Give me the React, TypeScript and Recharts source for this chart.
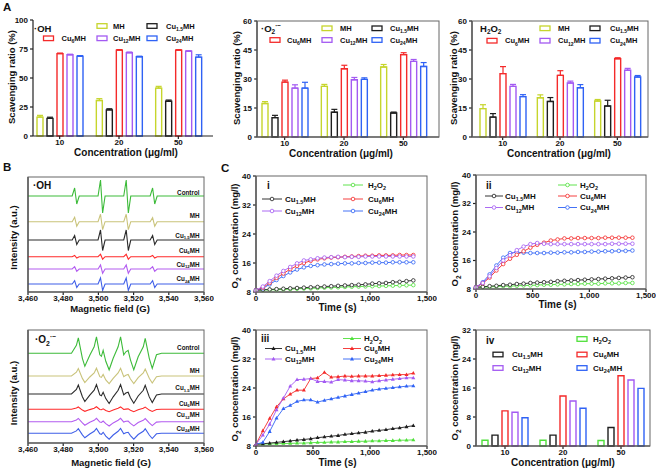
import React from 'react';
import { BarChart, Bar, LineChart, Line, XAxis, YAxis, ErrorBar } from 'recharts';

const FONT = '"Liberation Sans", Arial, sans-serif';
const AX = '#222';
const FRAME = '#666';

// ---------- data ----------
const concentrations = ['10', '20', '50'];

// A: ·OH scavenging ratio (%)
const ohMH = [16.3, 30.6, 41.3];
const ohMHErr = [1.5, 1.6, 1.5];
const ohCu15 = [15.2, 22.5, 30.0];
const ohCu15Err = [1.0, 1.0, 1.0];
const ohCu6 = [71.0, 74.0, 74.0];
const ohCu6Err = [0.5, 0.5, 0.4];
const ohCu12 = [70.0, 71.8, 73.0];
const ohCu12Err = [0.5, 0.6, 0.5];
const ohCu24 = [68.8, 68.3, 68.0];
const ohCu24Err = [0.5, 0.5, 2.0];

// A: ·O2- scavenging ratio (%)
const o2MH = [17.3, 26.2, 36.2];
const o2MHErr = [1.0, 1.0, 1.3];
const o2Cu15 = [10.0, 12.8, 12.4];
const o2Cu15Err = [1.2, 1.5, 0.5];
const o2Cu6 = [28.4, 35.3, 42.6];
const o2Cu6Err = [1.0, 1.8, 1.0];
const o2Cu12 = [25.3, 29.6, 39.1];
const o2Cu12Err = [1.7, 1.2, 1.0];
const o2Cu24 = [25.3, 29.8, 36.5];
const o2Cu24Err = [3.0, 0.8, 2.0];

// A: H2O2 scavenging ratio (%)
const hpMH = [14.7, 20.3, 18.6];
const hpMHErr = [2.0, 1.5, 0.8];
const hpCu15 = [10.3, 18.4, 16.0];
const hpCu15Err = [1.8, 2.0, 3.0];
const hpCu6 = [32.8, 31.9, 40.5];
const hpCu6Err = [3.6, 2.4, 0.5];
const hpCu12 = [26.2, 27.9, 34.5];
const hpCu12Err = [1.0, 1.0, 1.0];
const hpCu24 = [20.9, 25.5, 31.0];
const hpCu24Err = [1.0, 1.6, 0.8];

// B: EPR spectra, field (G) key points and amplitudes (a.u.)
const ohField = [3460, 3485.1, 3486.5, 3487.7, 3489.1, 3499.8, 3501.2, 3502.4, 3503.8, 3514.4, 3515.8, 3517.0, 3518.4, 3529.4, 3530.8, 3532.0, 3533.4, 3560];
const ohControlTrace = [0, 0, 8, -8, 0, 0, 16, -17, 0, 0, 16, -17, 0, 0, 8, -8, 0, 0];
const ohMHTrace = [0, 0, 4.5, -4.5, 0, 0, 7.5, -8, 0, 0, 7.5, -8, 0, 0, 4, -4.5, 0, 0];
const ohCu15Trace = [0, 0, 4.5, -4.5, 0, 0, 10, -10.5, 0, 0, 10, -10.5, 0, 0, 4.5, -4.5, 0, 0];
const ohCu6Trace = [0, 0, 1.3, -1.3, 0, 0, 2.5, -2.5, 0, 0, 2.5, -2.5, 0, 0, 1.3, -1.3, 0, 0];
const ohCu12Trace = [0, 0, 2.3, -2.3, 0, 0, 4, -4.2, 0, 0, 4, -4.2, 0, 0, 2.3, -2.3, 0, 0];
const ohCu24Trace = [0, 0, 3.3, -3.5, 0, 0, 6, -6.5, 0, 0, 6, -6.5, 0, 0, 3.3, -3.5, 0, 0];
const ohBaselines = [96, 70.3, 52, 35.3, 23, 8];

const o2Field = [3460, 3484.7, 3487.5, 3488.6, 3490.9, 3492.3, 3495.1, 3497.6, 3498.9, 3500.8, 3501.7, 3502.7, 3504.2, 3506.1, 3508.4, 3511.2, 3512.6, 3514.4, 3515.6, 3516.9, 3518.2, 3520.1, 3522.6, 3525.5, 3526.6, 3528.9, 3530.6, 3533.0, 3535.9, 3560];
const o2ControlTrace = [0, 0, 8, 15.5, -5, -13, -2, 6.5, 16.5, -1.5, -3, 3, -8, -16.5, -5, 6.5, 16.5, -1.5, 1.5, 3, -6.5, -16.5, -3.5, 6.5, 15, -5, -15, -1.5, 0, 0];
const o2MHTrace = [0, 0, 3.8, 7.5, -2.4, -6.5, -1, 3.1, 7.8, -0.7, -1.4, 1.5, -3.9, -7.6, -2.3, 3.1, 7.7, -0.7, 0.8, 1.5, -3, -7.5, -1.6, 3, 7, -2.3, -7, -0.7, 0, 0];
const o2Cu15Trace = [0, 0, 4.6, 9, -2.8, -7.5, -1.1, 3.8, 9.4, -0.9, -1.7, 1.8, -4.6, -9.5, -2.8, 3.7, 9.4, -0.9, 0.9, 1.8, -3.7, -9.3, -2, 3.7, 8.6, -2.9, -8.6, -0.9, 0, 0];
const o2Cu6Trace = [0, 0, 1.2, 2.3, -0.8, -2, -0.3, 1, 2.5, -0.2, -0.4, 0.5, -1.2, -2.4, -0.7, 1, 2.4, -0.2, 0.2, 0.4, -1, -2.4, -0.5, 1, 2.2, -0.8, -2.2, -0.2, 0, 0];
const o2Cu12Trace = [0, 0, 1.7, 3.3, -1.2, -3.5, -0.5, 1.4, 3.4, -0.4, -0.7, 0.7, -2, -4.3, -1.2, 1.4, 3.4, -0.4, 0.4, 0.7, -1.7, -4.2, -0.8, 1.4, 3.1, -1.2, -3.9, -0.4, 0, 0];
const o2Cu24Trace = [0, 0, 2.4, 4.6, -1.6, -4.5, -0.7, 2, 4.9, -0.5, -1, 1, -2.8, -5.9, -1.7, 2, 4.9, -0.5, 0.5, 1, -2.3, -5.8, -1.2, 2, 4.5, -1.7, -5.2, -0.5, 0, 0];
const o2Baselines = [89.7, 67, 49, 33.7, 21.3, 9.7];

// C: O2 concentration (mg/l) vs time (s)
const times = [0, 60, 120, 180, 240, 300, 360, 420, 480, 540, 600, 660, 720, 780, 840, 900, 960, 1020, 1080, 1140, 1200, 1260, 1320, 1380];

const iCu15 = [8.5, 8.6, 8.7, 8.8, 8.9, 9.0, 9.1, 9.2, 9.3, 9.4, 9.5, 9.6, 9.7, 9.8, 9.9, 10.0, 10.1, 10.3, 10.4, 10.5, 10.7, 10.8, 11.0, 11.2];
const iCu6 = [8.5, 9.2, 10.5, 11.9, 13.1, 14.3, 15.2, 16.0, 16.6, 17.0, 17.3, 17.5, 17.6, 17.7, 17.8, 17.9, 18.0, 18.0, 18.1, 18.1, 18.1, 18.2, 18.2, 18.2];
const iCu12 = [8.5, 9.5, 11.0, 12.5, 13.8, 14.9, 15.9, 16.7, 17.0, 17.3, 17.5, 17.6, 17.7, 17.6, 17.7, 17.7, 17.8, 17.8, 17.8, 17.8, 17.8, 17.8, 17.8, 17.8];
const iCu24 = [8.5, 9.0, 10.1, 11.3, 12.4, 13.4, 14.2, 14.8, 15.2, 15.4, 15.6, 15.7, 15.8, 15.9, 15.9, 16.0, 16.0, 16.1, 16.1, 16.1, 16.2, 16.2, 16.2, 16.2];
const iH2O2 = [8.5, 8.55, 8.6, 8.65, 8.7, 8.8, 8.9, 8.95, 9.0, 9.1, 9.2, 9.25, 9.3, 9.4, 9.45, 9.5, 9.55, 9.6, 9.65, 9.7, 9.75, 9.8, 9.85, 9.9];

const iiCu15 = [8.5, 8.6, 8.8, 8.9, 9.1, 9.2, 9.4, 9.5, 9.7, 9.8, 9.9, 10.0, 10.2, 10.3, 10.4, 10.5, 10.6, 10.7, 10.8, 10.9, 11.0, 11.1, 11.2, 11.3];
const iiCu6 = [8.5, 9.6, 11.2, 13.2, 15.0, 16.5, 17.6, 18.6, 19.6, 20.4, 21.0, 21.6, 21.9, 22.2, 22.2, 22.3, 22.3, 22.3, 22.3, 22.4, 22.4, 22.4, 22.4, 22.4];
const iiCu12 = [8.5, 9.7, 11.6, 13.9, 16.0, 17.5, 18.9, 19.9, 20.6, 20.9, 20.7, 20.6, 20.6, 20.6, 20.6, 20.6, 20.6, 20.6, 20.6, 20.6, 20.7, 20.7, 20.7, 20.7];
const iiCu24 = [8.5, 9.9, 12.1, 14.6, 16.8, 18.1, 18.3, 18.2, 18.1, 18.1, 18.1, 18.2, 18.2, 18.3, 18.3, 18.4, 18.4, 18.5, 18.5, 18.6, 18.6, 18.7, 18.7, 18.8];
const iiH2O2 = [8.5, 8.5, 8.6, 8.7, 8.8, 8.8, 8.9, 9.0, 9.0, 9.1, 9.2, 9.2, 9.3, 9.3, 9.4, 9.4, 9.5, 9.5, 9.5, 9.6, 9.6, 9.6, 9.7, 9.7];

const iiiCu15 = [8.5, 8.6, 8.8, 9.0, 9.2, 9.4, 9.6, 9.8, 10.0, 10.3, 10.5, 10.7, 10.9, 11.2, 11.4, 11.6, 11.8, 12.1, 12.3, 12.5, 12.8, 13.0, 13.3, 13.6];
const iiiCu6 = [8.5, 12.2, 15.6, 18.8, 21.0, 22.3, 23.4, 23.4, 26.6, 26.8, 28.3, 27.0, 27.1, 27.3, 27.2, 27.3, 27.3, 27.3, 27.4, 27.5, 27.6, 27.7, 27.7, 28.1];
const iiiCu12 = [8.5, 11.0, 14.0, 18.0, 21.2, 24.5, 26.3, 26.4, 26.6, 25.8, 25.8, 25.6, 26.3, 26.2, 26.0, 26.0, 25.9, 25.7, 26.0, 26.2, 26.4, 26.6, 26.8, 26.8];
const iiiCu24 = [8.5, 9.0, 12.0, 15.7, 18.3, 19.2, 20.3, 20.7, 20.7, 20.1, 20.6, 21.0, 21.4, 21.8, 22.2, 22.6, 23.0, 23.4, 23.7, 23.9, 24.1, 24.3, 24.5, 24.6];
const iiiH2O2 = [8.5, 8.5, 8.6, 8.6, 8.7, 8.7, 8.8, 8.8, 8.9, 9.0, 9.0, 9.1, 9.1, 9.2, 9.2, 9.3, 9.3, 9.4, 9.4, 9.5, 9.5, 9.6, 9.6, 9.7];

// C-iv: O2 concentration (mg/l) by concentration
const ivH2O2 = [1.6, 1.6, 1.5];
const ivCu15 = [3.0, 3.0, 5.1];
const ivCu6 = [9.7, 13.8, 19.4];
const ivCu12 = [9.3, 12.4, 18.2];
const ivCu24 = [7.8, 10.4, 15.9];

// ---------- tables ----------
const COLORS: Record<string, string> = {
  MH: '#c6d52c',
  Cu15: '#1e1e1e',
  Cu6: '#f42a2a',
  Cu12: '#a35af2',
  Cu24: '#2f62f5',
  H2O2: '#4fe03a',
};
const EPR_COLORS = ['#3dbb3a', '#c9c37a', '#2b2b2b', '#ff2b2b', '#b35cf0', '#3f5fe8'];
const EPR_KEYS = ['control', 'mh', 'cu15', 'cu6', 'cu12', 'cu24'];

const aKeys = ['MH', 'Cu15', 'Cu6', 'Cu12', 'Cu24'];
const ivKeys = ['H2O2', 'Cu15', 'Cu6', 'Cu12', 'Cu24'];
const cKeys = ['H2O2', 'Cu15', 'Cu24', 'Cu6', 'Cu12'];

const barRows = (cols: Record<string, number[]>, errs?: Record<string, number[]>) =>
  concentrations.map((c, i) => {
    const row: Record<string, any> = { c };
    Object.keys(cols).forEach((k) => {
      row[k] = cols[k][i];
      if (errs) row[k + 'Err'] = [0, errs[k][i]];
    });
    return row;
  });

const ohRows = barRows(
  { MH: ohMH, Cu15: ohCu15, Cu6: ohCu6, Cu12: ohCu12, Cu24: ohCu24 },
  { MH: ohMHErr, Cu15: ohCu15Err, Cu6: ohCu6Err, Cu12: ohCu12Err, Cu24: ohCu24Err },
);
const o2Rows = barRows(
  { MH: o2MH, Cu15: o2Cu15, Cu6: o2Cu6, Cu12: o2Cu12, Cu24: o2Cu24 },
  { MH: o2MHErr, Cu15: o2Cu15Err, Cu6: o2Cu6Err, Cu12: o2Cu12Err, Cu24: o2Cu24Err },
);
const hpRows = barRows(
  { MH: hpMH, Cu15: hpCu15, Cu6: hpCu6, Cu12: hpCu12, Cu24: hpCu24 },
  { MH: hpMHErr, Cu15: hpCu15Err, Cu6: hpCu6Err, Cu12: hpCu12Err, Cu24: hpCu24Err },
);
const ivRows = barRows({ H2O2: ivH2O2, Cu15: ivCu15, Cu6: ivCu6, Cu12: ivCu12, Cu24: ivCu24 });

const eprRows = (field: number[], traces: number[][], base: number[]) =>
  field.map((f, i) => {
    const row: Record<string, number> = { f };
    EPR_KEYS.forEach((k, j) => (row[k] = base[j] + traces[j][i]));
    return row;
  });
const ohEpr = eprRows(ohField, [ohControlTrace, ohMHTrace, ohCu15Trace, ohCu6Trace, ohCu12Trace, ohCu24Trace], ohBaselines);
const o2Epr = eprRows(o2Field, [o2ControlTrace, o2MHTrace, o2Cu15Trace, o2Cu6Trace, o2Cu12Trace, o2Cu24Trace], o2Baselines);

const timeRows = (cols: Record<string, number[]>) =>
  times.map((t, i) => {
    const row: Record<string, number> = { t };
    Object.keys(cols).forEach((k) => (row[k] = cols[k][i]));
    return row;
  });
const iRows = timeRows({ H2O2: iH2O2, Cu15: iCu15, Cu6: iCu6, Cu12: iCu12, Cu24: iCu24 });
const iiRows = timeRows({ H2O2: iiH2O2, Cu15: iiCu15, Cu6: iiCu6, Cu12: iiCu12, Cu24: iiCu24 });
const iiiRows = timeRows({ H2O2: iiiH2O2, Cu15: iiiCu15, Cu6: iiiCu6, Cu12: iiiCu12, Cu24: iiiCu24 });

// ---------- layout ----------
type R = [number, number, number, number];
const rA1: R = [33, 20, 213, 136];
const rA2: R = [257, 21, 439, 137];
const rA3: R = [472, 21, 648, 137];
const rB1: R = [28, 177, 204, 292];
const rB2: R = [28, 330, 204, 443];
const rCi: R = [256, 176, 427, 292];
const rCii: R = [476, 175, 646, 289];
const rCiii: R = [256, 330, 427, 446];
const rCiv: R = [476, 330, 650, 446];

const PL = 40;
const PT = 8;
const PR = 10;
const PB = 24;

const TICK = { fontSize: 8, fontWeight: 700, fill: '#111', fontFamily: FONT };
const comma = (v: number) => v.toLocaleString('en-US');

const Holder: React.FC<{ r: R; children: (w: number, h: number) => React.ReactNode }> = ({ r, children }) => (
  <div style={{ position: 'absolute', left: r[0] - PL, top: r[1] - PT }}>
    {children(r[2] - r[0] + PL + PR, r[3] - r[1] + PT + PB)}
  </div>
);

const axisProps = {
  tick: TICK,
  tickSize: 3,
  axisLine: { stroke: AX, strokeWidth: 1.2 },
  tickLine: { stroke: AX, strokeWidth: 1.2 },
  interval: 0 as const,
};

function GroupBars({ r, rows, keys, yMax, yTicks, pad, errors }: any) {
  return (
    <Holder r={r}>
      {(w, h) => (
        <BarChart width={w} height={h} data={rows} margin={{ top: PT, right: PR, left: 0, bottom: 0 }} barSize={6} barGap={4}>
          <XAxis dataKey="c" height={PB} tickMargin={0} padding={pad} {...axisProps} />
          <YAxis width={PL} type="number" domain={[0, yMax]} ticks={yTicks} tickMargin={2} {...axisProps} />
          {keys.map((k: string) => (
            <Bar key={k} dataKey={k} fill="#fff" stroke={COLORS[k]} strokeWidth={1.4} isAnimationActive={false}>
              {errors && <ErrorBar dataKey={k + 'Err'} width={3} stroke={COLORS[k]} strokeWidth={1.2} direction="y" />}
            </Bar>
          ))}
        </BarChart>
      )}
    </Holder>
  );
}

function EprChart({ r, rows }: { r: R; rows: Record<string, number>[] }) {
  const top = r[3] - r[1];
  return (
    <Holder r={r}>
      {(w, h) => (
        <LineChart width={w} height={h} data={rows} margin={{ top: PT, right: PR, left: 0, bottom: 0 }}>
          <XAxis
            dataKey="f"
            type="number"
            domain={[3460, 3560]}
            ticks={[3460, 3480, 3500, 3520, 3540, 3560]}
            tickFormatter={comma}
            height={PB}
            tickMargin={0}
            {...axisProps}
          />
          <YAxis width={PL} type="number" domain={[0, top]} tick={false} tickLine={false} axisLine={{ stroke: AX, strokeWidth: 1.2 }} />
          {EPR_KEYS.map((k, j) => (
            <Line key={k} dataKey={k} type="linear" stroke={EPR_COLORS[j]} strokeWidth={1.1} dot={false} isAnimationActive={false} />
          ))}
        </LineChart>
      )}
    </Holder>
  );
}

const triangle = (color: string) => (p: any) =>
  (
    <path
      key={`${color}-${p.index}`}
      d={`M${p.cx},${p.cy - 2.2}L${p.cx + 2},${p.cy + 1.4}L${p.cx - 2},${p.cy + 1.4}Z`}
      fill={color}
    />
  );

function O2Chart({ r, rows, tri }: { r: R; rows: Record<string, number>[]; tri?: boolean }) {
  return (
    <Holder r={r}>
      {(w, h) => (
        <LineChart width={w} height={h} data={rows} margin={{ top: PT, right: PR, left: 0, bottom: 0 }}>
          <XAxis
            dataKey="t"
            type="number"
            domain={[0, 1500]}
            ticks={[0, 500, 1000, 1500]}
            tickFormatter={comma}
            height={PB}
            tickMargin={0}
            {...axisProps}
          />
          <YAxis width={PL} type="number" domain={[8, 40]} ticks={[8, 16, 24, 32, 40]} tickMargin={2} {...axisProps} />
          {cKeys.map((k) => (
            <Line
              key={k}
              dataKey={k}
              type="linear"
              stroke={COLORS[k]}
              strokeWidth={0.9}
              dot={tri ? triangle(COLORS[k]) : { r: 1.8, stroke: COLORS[k], strokeWidth: 0.8, fill: '#fff' }}
              isAnimationActive={false}
            />
          ))}
        </LineChart>
      )}
    </Holder>
  );
}

// ---------- text helpers ----------
type Part = string | [string, 'sub' | 'sup'];
const LBL: Record<string, Part[]> = {
  MH: ['MH'],
  Cu15: ['Cu', ['1.5', 'sub'], 'MH'],
  Cu6: ['Cu', ['6', 'sub'], 'MH'],
  Cu12: ['Cu', ['12', 'sub'], 'MH'],
  Cu24: ['Cu', ['24', 'sub'], 'MH'],
  H2O2: ['H', ['2', 'sub'], 'O', ['2', 'sub']],
};
const EPR_LBL: Part[][] = [['Control'], LBL.MH, LBL.Cu15, LBL.Cu6, LBL.Cu12, LBL.Cu24];

function T({ x, y, parts, size, anchor = 'start', rot }: { x: number; y: number; parts: Part[]; size: number; anchor?: string; rot?: boolean }) {
  let cur = 0;
  const kids = parts.map((p, i) => {
    const [s, kind] = typeof p === 'string' ? [p, null] : p;
    const target = kind === 'sub' ? size * 0.28 : kind === 'sup' ? -size * 0.4 : 0;
    const dy = target - cur;
    cur = target;
    return (
      <tspan key={i} dy={dy} fontSize={kind ? size * 0.68 : size}>
        {s}
      </tspan>
    );
  });
  return (
    <text
      x={rot ? 0 : x}
      y={rot ? 0 : y}
      transform={rot ? `translate(${x},${y}) rotate(-90)` : undefined}
      textAnchor={anchor as any}
      fontFamily={FONT}
      fontWeight={700}
      fill="#111"
    >
      {kids}
    </text>
  );
}

const RectIcon = ({ x, y, k }: { x: number; y: number; k: string }) => (
  <rect x={x} y={y - 2.3} width={10} height={4.6} fill="#fff" stroke={COLORS[k]} strokeWidth={1.3} />
);
const LineIcon = ({ x0, x1, y, k, tri }: { x0: number; x1: number; y: number; k: string; tri?: boolean }) => {
  const cx = (x0 + x1) / 2;
  return (
    <g>
      <line x1={x0} x2={x1} y1={y} y2={y} stroke={COLORS[k]} strokeWidth={0.9} />
      {tri ? (
        <path d={`M${cx},${y - 2.2}L${cx + 2},${y + 1.4}L${cx - 2},${y + 1.4}Z`} fill={COLORS[k]} />
      ) : (
        <circle cx={cx} cy={y} r={1.8} fill="#fff" stroke={COLORS[k]} strokeWidth={0.8} />
      )}
    </g>
  );
};

const Frame = ({ r }: { r: R }) => (
  <rect x={r[0]} y={r[1]} width={r[2] - r[0]} height={r[3] - r[1]} fill="none" stroke={FRAME} strokeWidth={1} />
);

// legend layouts: [key, iconX, textX, y]
const aLeg1: [string, number, number, number][] = [
  ['MH', 97, 113, 26], ['Cu15', 147, 166, 26],
  ['Cu6', 43.5, 61.5, 38.3], ['Cu12', 97, 113, 38.3], ['Cu24', 147, 166, 38.3],
];
const aLeg2: [string, number, number, number][] = [
  ['MH', 322, 340, 28.3], ['Cu15', 372, 390, 28.3],
  ['Cu6', 270, 287, 40], ['Cu12', 322, 340, 40], ['Cu24', 372, 390, 40],
];
const aLeg3: [string, number, number, number][] = [
  ['MH', 540, 558, 28.3], ['Cu15', 590, 610, 28.3],
  ['Cu6', 487, 505, 40.7], ['Cu12', 540, 558, 40.7], ['Cu24', 590, 610, 40.7],
];
const ivLeg: [string, number, number, number][] = [
  ['H2O2', 577, 593, 339], ['Cu15', 493, 512, 354.5], ['Cu6', 577, 593, 354.5],
  ['Cu12', 493, 512, 368], ['Cu24', 577, 593, 368],
];
// [key, x0, x1, textX, y]
const ciLeg: [string, number, number, number, number][] = [
  ['H2O2', 343, 363, 368, 185], ['Cu15', 262, 282, 285, 199], ['Cu6', 343, 363, 368, 199],
  ['Cu12', 262, 282, 285, 211], ['Cu24', 343, 363, 368, 211],
];
const ciiLeg: [string, number, number, number, number][] = [
  ['H2O2', 558, 577, 580, 185], ['Cu15', 485, 503, 505, 196], ['Cu6', 558, 577, 580, 196],
  ['Cu12', 485, 503, 505, 207.5], ['Cu24', 558, 577, 580, 207.5],
];
const ciiiLeg: [string, number, number, number, number][] = [
  ['H2O2', 343, 361, 364, 338.5], ['Cu15', 265, 282, 285, 348.5], ['Cu6', 343, 361, 364, 348.5],
  ['Cu12', 265, 282, 285, 359], ['Cu24', 343, 361, 364, 359],
];
const b1LabelY = [195, 217.5, 237.5, 252.5, 266.5, 281];
const b2LabelY = [350, 373, 390, 405.5, 417, 430.5];

const O2_CONC: Part[] = ['O', ['2', 'sub'], ' concentration (mg/l)'];
const CONC: Part[] = ['Concentration (μg/ml)'];
const SUPEROXIDE: Part[] = ['·O', ['2', 'sub'], ['·−', 'sup']];

export default function App() {
  return (
    <div style={{ position: 'absolute', left: 0, top: 0, width: 660, height: 471, background: '#fff', overflow: 'hidden' }}>
      <GroupBars r={rA1} rows={ohRows} keys={aKeys} yMax={100} yTicks={[0, 25, 50, 75, 100]} pad={{ left: -3, right: 5 }} errors />
      <GroupBars r={rA2} rows={o2Rows} keys={aKeys} yMax={60} yTicks={[0, 15, 30, 45, 60]} pad={{ left: -2, right: 6 }} errors />
      <GroupBars r={rA3} rows={hpRows} keys={aKeys} yMax={60} yTicks={[0, 15, 30, 45, 60]} pad={{ left: 2, right: 2 }} errors />
      <EprChart r={rB1} rows={ohEpr} />
      <EprChart r={rB2} rows={o2Epr} />
      <O2Chart r={rCi} rows={iRows} />
      <O2Chart r={rCii} rows={iiRows} />
      <O2Chart r={rCiii} rows={iiiRows} tri />
      <GroupBars r={rCiv} rows={ivRows} keys={ivKeys} yMax={32} yTicks={[0, 8, 16, 24, 32]} pad={{ left: 0, right: 0 }} />

      <svg width={660} height={471} style={{ position: 'absolute', left: 0, top: 0, pointerEvents: 'none' }}>
        {[rA2, rA3, rB1, rB2, rCi, rCii, rCiii, rCiv].map((r, i) => (
          <Frame key={i} r={r} />
        ))}

        <T x={3} y={11} parts={['A']} size={11.5} />
        <T x={3} y={171} parts={['B']} size={11.5} />
        <T x={221} y={171.5} parts={['C']} size={11.5} />

        {/* A */}
        <T x={15} y={77} parts={['Scavenging ratio (%)']} size={9.5} anchor="middle" rot />
        <T x={240} y={78} parts={['Scavenging ratio (%)']} size={9.5} anchor="middle" rot />
        <T x={457} y={78} parts={['Scavenging ratio (%)']} size={9.5} anchor="middle" rot />
        <T x={126} y={156} parts={CONC} size={10} anchor="middle" />
        <T x={341} y={156.5} parts={CONC} size={10} anchor="middle" />
        <T x={559} y={156.5} parts={CONC} size={10} anchor="middle" />
        <T x={34} y={31.5} parts={['·OH']} size={9.5} />
        <T x={261} y={31.5} parts={SUPEROXIDE} size={9.5} />
        <T x={480} y={31.5} parts={['H', ['2', 'sub'], 'O', ['2', 'sub']]} size={9.5} />
        {[...aLeg1, ...aLeg2, ...aLeg3, ...ivLeg].map(([k, ix, tx, y], i) => (
          <g key={i}>
            <RectIcon x={ix} y={y} k={k} />
            <T x={tx} y={y + 2.7} parts={LBL[k]} size={i >= 15 ? 8 : 7.5} />
          </g>
        ))}

        {/* B */}
        <T x={17} y={237.5} parts={['Intensity (a.u.)']} size={9.5} anchor="middle" rot />
        <T x={17} y={393} parts={['Intensity (a.u.)']} size={9.5} anchor="middle" rot />
        <T x={110} y={312} parts={['Magnetic field (G)']} size={9.5} anchor="middle" />
        <T x={111} y={465.5} parts={['Magnetic field (G)']} size={9.5} anchor="middle" />
        <T x={33} y={188.5} parts={['·OH']} size={10} />
        <T x={35} y={343} parts={SUPEROXIDE} size={10} />
        {EPR_LBL.map((p, i) => (
          <T key={'b1' + i} x={199.5} y={b1LabelY[i]} parts={p} size={6.3} anchor="end" />
        ))}
        {EPR_LBL.map((p, i) => (
          <T key={'b2' + i} x={199.5} y={b2LabelY[i]} parts={p} size={6.3} anchor="end" />
        ))}

        {/* C */}
        <T x={238} y={236} parts={O2_CONC} size={9.5} anchor="middle" rot />
        <T x={458} y={234} parts={O2_CONC} size={9.5} anchor="middle" rot />
        <T x={238} y={389} parts={O2_CONC} size={9.5} anchor="middle" rot />
        <T x={458} y={388} parts={O2_CONC} size={9.5} anchor="middle" rot />
        <T x={337.5} y={311} parts={['Time (s)']} size={10} anchor="middle" />
        <T x={557.5} y={307.5} parts={['Time (s)']} size={10} anchor="middle" />
        <T x={337.5} y={465.5} parts={['Time (s)']} size={10} anchor="middle" />
        <T x={563} y={465.5} parts={CONC} size={10} anchor="middle" />
        <T x={267} y={189} parts={['i']} size={10} />
        <T x={486} y={189} parts={['ii']} size={10} />
        <T x={261} y={342} parts={['iii']} size={10} />
        <T x={486} y={344} parts={['iv']} size={10} />
        {ciLeg.map(([k, x0, x1, tx, y], i) => (
          <g key={'ci' + i}>
            <LineIcon x0={x0} x1={x1} y={y} k={k} />
            <T x={tx} y={y + 2.8} parts={LBL[k]} size={8} />
          </g>
        ))}
        {ciiLeg.map(([k, x0, x1, tx, y], i) => (
          <g key={'cii' + i}>
            <LineIcon x0={x0} x1={x1} y={y} k={k} />
            <T x={tx} y={y + 2.8} parts={LBL[k]} size={8} />
          </g>
        ))}
        {ciiiLeg.map(([k, x0, x1, tx, y], i) => (
          <g key={'ciii' + i}>
            <LineIcon x0={x0} x1={x1} y={y} k={k} tri />
            <T x={tx} y={y + 2.8} parts={LBL[k]} size={8} />
          </g>
        ))}
      </svg>
    </div>
  );
}
